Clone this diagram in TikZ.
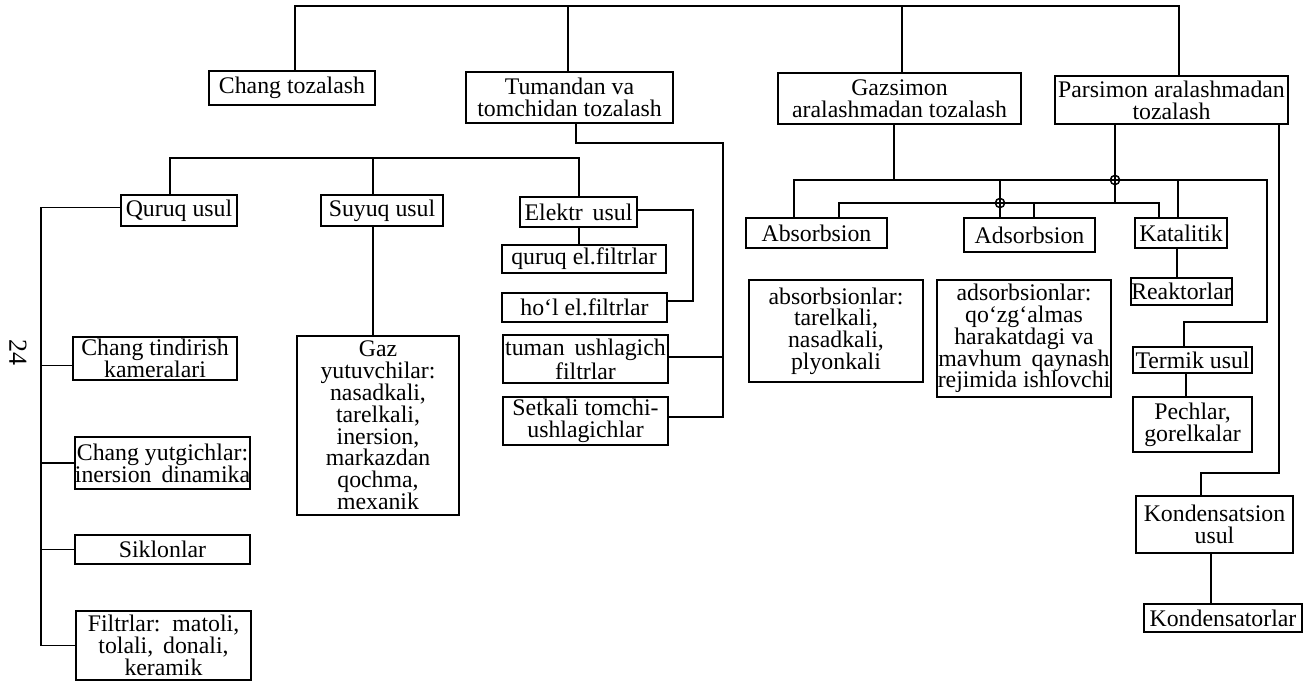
\documentclass[tikz,border=0pt]{standalone}
\usepackage{fontspec}
\setmainfont{Liberation Serif}
\newcommand\bfs{\fontsize{11.9}{10.9}\selectfont}
\tikzset{
  box/.style={draw, line width=0.8pt, inner sep=0pt, align=center, font=\bfs},
  conn/.style={line width=0.75pt}
}
\newcommand\bx[6]{\node[box, minimum width={(#4-#2)*0.5pt}, minimum height={(#5-#3)*0.5pt}] (#1) at ({(#2+#4)/2},{(#3+#5)/2}) {#6};}
\begin{document}
\begin{tikzpicture}[x=0.5pt, y=-0.5pt]
\useasboundingbox (0,0) rectangle (1305,682);
% level 1
\bx{chang}{209}{71}{375}{105}{Chang tozalash}
\bx{tum}{466}{72}{673}{123}{Tumandan va\\tomchidan tozalash}
\bx{gazs}{778}{73}{1021}{124}{Gazsimon\\aralashmadan tozalash}
\bx{pars}{1055}{76}{1288}{124}{Parsimon aralashmadan\\tozalash}
% left branch
\bx{quruq}{121}{195}{237}{226}{Quruq usul}
\bx{suyuq}{321}{195}{443}{226}{Suyuq usul}
\bx{elektr}{520}{197}{637}{227}{Elektr\, usul}
\bx{qel}{502}{245}{666}{273}{quruq el.filtrlar}
\bx{hol}{502}{293}{667}{322}{ho‘l el.filtrlar}
\bx{tuman}{503}{335}{668}{383}{tuman\, ushlagich\\filtrlar}
\bx{setk}{503}{397}{668}{445}{Setkali tomchi-\\ushlagichlar}
\bx{tind}{73}{337}{237}{380}{Chang tindirish\\kameralari}
\bx{yutg}{75}{437}{250}{489}{Chang yutgichlar:\\inersion\, dinamika}
\bx{sikl}{75}{535}{250}{564}{Siklonlar}
\bx{filt}{76}{611}{251}{680}{Filtrlar:\, matoli,\\tolali,\, donali,\\keramik}
\bx{gazb}{297}{336}{459}{515}{Gaz\\yutuvchilar:\\nasadkali,\\tarelkali,\\inersion,\\markazdan\\qochma,\\mexanik}
% right branch
\bx{absb}{746}{218}{887}{248}{Absorbsion}
\bx{adsb}{964}{218}{1095}{252}{Adsorbsion}
\bx{kat}{1135}{218}{1227}{248}{Katalitik}
\bx{absl}{749}{280}{923}{382}{absorbsionlar:\\tarelkali,\\nasadkali,\\plyonkali}
\bx{adsl}{937}{280}{1111}{397}{adsorbsionlar:\\qo‘zg‘almas\\harakatdagi va\\mavhum\, qaynash\\rejimida ishlovchi}
\bx{reak}{1132}{278}{1231}{305}{Reaktorlar}
\bx{term}{1133}{347}{1252}{373}{Termik usul}
\bx{pech}{1133}{397}{1252}{452}{Pechlar,\\gorelkalar}
\bx{kond}{1136}{496}{1293}{553}{Kondensatsion\\usul}
\bx{kdr}{1144}{604}{1302}{632}{Kondensatorlar}
% page number
\node[rotate=-90, font=\fontsize{13}{13}\selectfont, inner sep=0pt] (pg) at (18,352) {24};
% junction coordinates
\coordinate (tR) at (1179,6);
\coordinate (tT) at (568,6);
\coordinate (tG) at (902,6);
\coordinate (tumC) at (723,143);
\coordinate (mL) at (579,158);
\coordinate (mS) at (373,158);
\coordinate (eC) at (693,301);
\coordinate (uR) at (1267,180);
\coordinate (uT) at (1184,322);
\coordinate (uG) at (894,180);
\coordinate (uA) at (1000,180);
\coordinate (uK) at (1178,180);
\coordinate (lR) at (1159,203);
\coordinate (lP) at (1115,203);
\coordinate (lA) at (1034,203);
\coordinate (hop1) at (1000,203);
\coordinate (hop2) at (1115,180);
\coordinate (kC) at (1201,473);
% connectors
\draw[conn] (chang.north -| 295,0) |- (tR) -- (pars.north -| tR);
\draw[conn] (tum.north -| tT) -- (tT);
\draw[conn] (gazs.north -| tG) -- (tG);
\draw[conn] (tum.south -| 576,0) |- (tumC) |- ([yshift=2pt]setk.east);
\draw[conn] ([yshift=1pt]tuman.east) -- ([yshift=1pt]tuman.east -| tumC);
\draw[conn] (quruq.north -| 170,0) |- (mL) -- (elektr.north -| mL);
\draw[conn] (suyuq.north -| mS) -- (mS);
\draw[conn] (suyuq.south -| mS) -- (gazb.north -| mS);
\draw[conn] (elektr.south -| mL) -- (qel.north -| mL);
\draw[conn] ([yshift=1pt]elektr.east) -| (eC) -- (hol.east |- eC);
\draw[conn] ([yshift=1.5pt]quruq.west) -| (filt.west -| 41,0) -- (filt.west);
\draw[conn] ([yshift=-3.5pt]tind.west) -- ([yshift=-3.5pt]tind.west -| 41,0);
\draw[conn] (yutg.west) -- (yutg.west -| 41,0);
\draw[conn] (sikl.west) -- (sikl.west -| 41,0);
% gas / vapour cluster
\draw[conn] (gazs.south -| uG) -- (uG);
\draw[conn] (absb.north -| 794,0) |- (uR) |- (uT) -- (term.north -| uT);
\draw[conn] (uA) -- (adsb.north -| uA);
\draw[conn] (uK) -- (kat.north -| uK);
\draw[conn] (pars.south -| lP) -- (lP);
\draw[conn] (absb.north -| 839,0) |- (lR) -- (kat.north -| lR);
\draw[conn] (lA) -- (adsb.north -| lA);
\draw[conn] (hop1) circle[radius=2.3pt];
\draw[conn] (hop2) circle[radius=2.3pt];
\draw[conn] (kat.south -| 1177,0) -- (reak.north -| 1177,0);
\draw[conn] (term.south -| 1186,0) -- (pech.north -| 1186,0);
\draw[conn] (pars.south -| 1279,0) |- (kC) -- (kond.north -| kC);
\draw[conn] (kond.south -| 1211,0) -- (kdr.north -| 1211,0);
\end{tikzpicture}
\end{document}
